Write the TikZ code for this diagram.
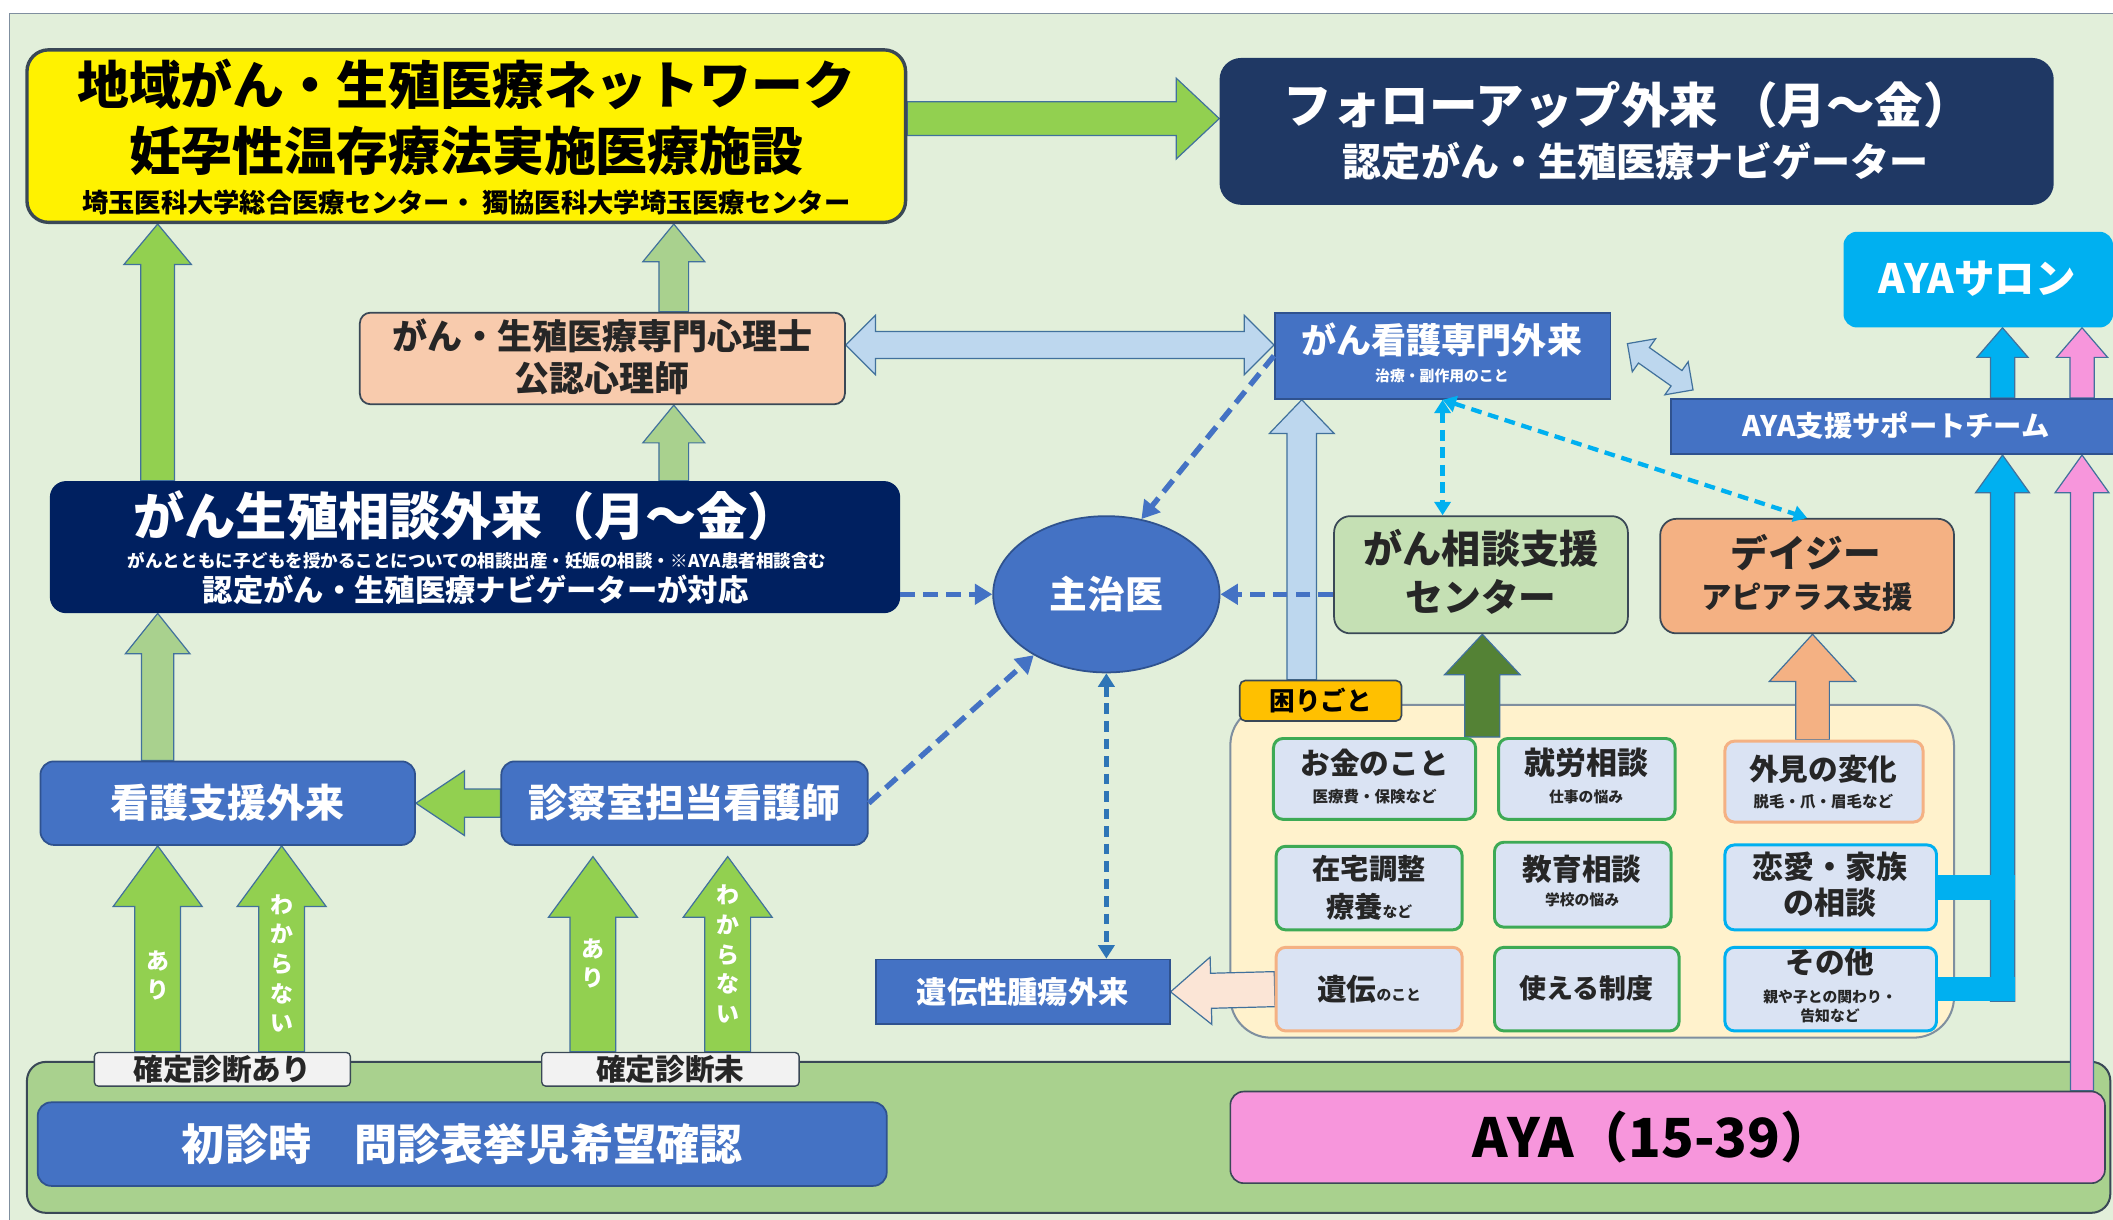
\documentclass[tikz,border=0pt]{standalone}
\usepackage{fontspec}
\setmainfont{Noto Sans CJK JP}
\usetikzlibrary{calc,arrows.meta,shapes.geometric}
\pgfdeclarelayer{bg}\pgfdeclarelayer{arr}
\pgfsetlayers{bg,arr,main}
\definecolor{bgc}{HTML}{E2EFDA}
\definecolor{cframe}{HTML}{7F8F9F}
\definecolor{cband}{HTML}{A9D18E}
\definecolor{cdark}{HTML}{3A4856}
\definecolor{cblue}{HTML}{4472C4}
\definecolor{cbord}{HTML}{2F528F}
\definecolor{cnavy}{HTML}{1F3864}
\definecolor{cnavyb}{HTML}{002060}
\definecolor{ccyan}{HTML}{00B0F0}
\definecolor{cpink}{HTML}{F796DC}
\definecolor{cgreen}{HTML}{92D050}
\definecolor{cgreenb}{HTML}{A9D18E}
\definecolor{cdgreen}{HTML}{548235}
\definecolor{clblue}{HTML}{BDD7EE}
\definecolor{cpeach}{HTML}{F8CBAD}
\definecolor{corange}{HTML}{F4B183}
\definecolor{cpeachl}{HTML}{FBE5D6}
\definecolor{cgreenl}{HTML}{C5E0B4}
\definecolor{ccream}{HTML}{FFF2CC}
\definecolor{cgold}{HTML}{FFC000}
\definecolor{cinner}{HTML}{DAE3F3}
\definecolor{cingreen}{HTML}{3DAA55}
\definecolor{carrline}{HTML}{41719C}
\definecolor{cteal}{HTML}{2E75B6}
\definecolor{klab}{HTML}{F2F2F2}
\definecolor{ctext}{HTML}{262626}
\tikzset{
  boxbase/.style={rectangle, inner sep=0pt},
  bluebox/.style={boxbase, fill=cblue, draw=cbord, line width=1.3pt},
  innerbox/.style={boxbase, rounded corners=7pt, fill=cinner, line width=2.2pt},
  blkarrow/.style={draw=carrline, line width=0.9pt, line join=miter},
  dasharr/.style={draw=cblue, line width=4pt, dash pattern=on 11pt off 6pt, -{Triangle[length=13pt,width=15pt]}},
  dashdbl/.style={line width=3.2pt, dash pattern=on 8pt off 5pt, {Triangle[length=10pt,width=12pt]}-{Triangle[length=10pt,width=12pt]}},
  vtxt/.style={inner sep=0pt, align=center, text=white, font=\bfseries\fontsize{17}{22}\selectfont}
}
\newcommand{\tx}[5]{\node[inner sep=0pt, text=#4, font=\bfseries\fontsize{#3}{#3}\selectfont] (#1) at (#2) {#5};}
\newcommand{\blk}[6][]{%
  \path (#2) coordinate (blkS) (#3) coordinate (blkE);
  \path ($(blkE)!#6!(blkS)$) coordinate (blkH);
  \draw[blkarrow,#1] ($(blkS)!#4!90:(blkE)$) -- ($(blkH)!#4!90:(blkE)$) -- ($(blkH)!#5!90:(blkE)$) -- (blkE) -- ($(blkH)!#5!-90:(blkE)$) -- ($(blkH)!#4!-90:(blkE)$) -- ($(blkS)!#4!-90:(blkE)$) -- cycle;}
\newcommand{\dblk}[6][]{%
  \path (#2) coordinate (blkS) (#3) coordinate (blkE);
  \path ($(blkE)!#6!(blkS)$) coordinate (blkH) ($(blkS)!#6!(blkE)$) coordinate (blkG);
  \draw[blkarrow,#1] (blkS) -- ($(blkG)!#5!90:(blkE)$) -- ($(blkG)!#4!90:(blkE)$) -- ($(blkH)!#4!90:(blkE)$) -- ($(blkH)!#5!90:(blkE)$) -- (blkE) -- ($(blkH)!#5!-90:(blkE)$) -- ($(blkH)!#4!-90:(blkE)$) -- ($(blkG)!#4!-90:(blkE)$) -- ($(blkG)!#5!-90:(blkE)$) -- cycle;}
\begin{document}
\begin{tikzpicture}[x=1pt,y=-1pt]
\useasboundingbox (0,0) rectangle (1568,905);
\begin{pgfonlayer}{bg}
  \fill[white] (0,0) rectangle (1568,905);
  \fill[bgc] (7,10) rectangle (1568,905);
  \draw[cframe, line width=1.2pt] (7,905) -- (7,10) -- (1568,10);
  \node[boxbase, rounded corners=14pt, fill=cband, draw=cdark, line width=1.5pt, minimum width=1546pt, minimum height=112pt] (band) at (793,844) {};
  \node[boxbase, rounded corners=30pt, fill=ccream, draw=cframe, line width=1.5pt, minimum width=537pt, minimum height=247pt] (komaribox) at (1181.5,646.5) {};
\end{pgfonlayer}

% coordinates for arrow lines
\coordinate (x117) at (117,0);
\coordinate (x209) at (209,0);
\coordinate (x440) at (440,0);
\coordinate (x540) at (540,0);
\coordinate (x500) at (500,0);
\coordinate (x966) at (966,0);
\coordinate (x1100) at (1100,0);
\coordinate (x1345) at (1345,0);
\coordinate (x1486) at (1486,0);
\coordinate (x1545) at (1545,0);
\coordinate (y88) at (0,88);
\coordinate (y256) at (0,256);

% top
\node[boxbase, rounded corners=16pt, fill=yellow, draw=cdark, line width=2.5pt, minimum width=652pt, minimum height=128pt] (yb) at (346,101) {};
\tx{yb1}{346,63}{38.5}{black}{地域がん・生殖医療ネットワーク}
\tx{yb2}{346,112}{38.5}{black}{妊孕性温存療法実施医療施設}
\tx{yb3}{346,150}{19.5}{black}{埼玉医科大学総合医療センター・ 獨協医科大学埼玉医療センター}

\node[boxbase, rounded corners=16pt, fill=cnavy, minimum width=619pt, minimum height=109pt] (fu) at (1214.5,97.5) {};
\tx{fu1}{1208,78}{36}{white}{フォローアップ外来 （月～金）}
\tx{fu2}{1214,120}{29}{white}{認定がん・生殖医療ナビゲーター}

\node[boxbase, rounded corners=10pt, fill=ccyan, minimum width=200pt, minimum height=71pt] (salon) at (1468,207.5) {};
\tx{salon1}{1467,207}{30}{white}{AYAサロン}

\node[bluebox, minimum width=332pt, minimum height=41pt] (team) at (1406,316.5) {};
\tx{team1}{1407,316}{21}{white}{AYA支援サポートチーム}

\node[bluebox, minimum width=249pt, minimum height=64pt] (kango) at (1070.5,264) {};
\tx{kango1}{1070,252}{26}{white}{がん看護専門外来}
\tx{kango2}{1070,279}{11}{white}{治療・副作用のこと}

\node[boxbase, rounded corners=8pt, fill=cpeach, draw=cdark, line width=1.3pt, minimum width=360pt, minimum height=68pt] (psych) at (447,266) {};
\tx{psych1}{447,249}{26}{ctext}{がん・生殖医療専門心理士}
\tx{psych2}{447,281}{26}{ctext}{公認心理師}

\node[boxbase, rounded corners=12pt, fill=cnavyb, minimum width=631pt, minimum height=98pt] (cgs) at (352.5,406) {};
\tx{cgs1}{346,383}{38}{white}{がん生殖相談外来（月～金）}
\tx{cgs2}{354,416}{13}{white}{がんとともに子どもを授かることについての相談出産・妊娠の相談・※AYA患者相談含む}
\tx{cgs3}{353,438}{22.5}{white}{認定がん・生殖医療ナビゲーターが対応}

\node[ellipse, fill=cblue, draw=cbord, line width=1.3pt, minimum width=168pt, minimum height=116pt, inner sep=0pt, text=white, font=\bfseries\fontsize{28}{28}\selectfont] (shuji) at (821,441) {主治医};

\node[bluebox, rounded corners=10pt, minimum width=278pt, minimum height=62pt, text=white, font=\bfseries\fontsize{29}{29}\selectfont] (kangoshien) at (169,596) {看護支援外来};
\node[bluebox, rounded corners=10pt, minimum width=272pt, minimum height=62pt, text=white, font=\bfseries\fontsize{29}{29}\selectfont] (shinsatsu) at (508,596) {診察室担当看護師};

\node[boxbase, rounded corners=3pt, fill=klab, draw=cdark, line width=1pt, minimum width=190pt, minimum height=25pt, text=ctext, font=\bfseries\fontsize{22}{22}\selectfont] (k1) at (165,793.5) {確定診断あり};
\node[boxbase, rounded corners=3pt, fill=klab, draw=cdark, line width=1pt, minimum width=191pt, minimum height=25pt, text=ctext, font=\bfseries\fontsize{22}{22}\selectfont] (k2) at (497.5,793.5) {確定診断未};

\node[bluebox, rounded corners=10pt, minimum width=630pt, minimum height=62pt, text=white, font=\bfseries\fontsize{32}{32}\selectfont] (shoshin) at (343,849) {初診時　問診表挙児希望確認};
\node[boxbase, rounded corners=10pt, fill=cpink, draw=cdark, line width=1.2pt, minimum width=649pt, minimum height=68pt] (aya) at (1237.5,844) {};
\tx{aya1}{1227,844}{40}{black}{AYA（15-39）}

\node[boxbase, rounded corners=4pt, fill=cgold, draw=cdark, line width=1.2pt, minimum width=120pt, minimum height=30pt, text=black, font=\bfseries\fontsize{19}{19}\selectfont] (komari) at (980,520) {困りごと};

\node[boxbase, rounded corners=12pt, fill=cgreenl, draw=cdark, line width=1.3pt, minimum width=218pt, minimum height=87pt] (soudan) at (1099,426.5) {};
\tx{soudan1}{1099,407}{29}{ctext}{がん相談支援}
\tx{soudan2}{1099,443}{28}{ctext}{センター}

\node[boxbase, rounded corners=12pt, fill=corange, draw=cdark, line width=1.3pt, minimum width=218pt, minimum height=85pt] (daisy) at (1341,427.5) {};
\tx{daisy1}{1340,410}{28}{ctext}{デイジー}
\tx{daisy2}{1341,443}{22.5}{ctext}{アピアラス支援}

\node[bluebox, minimum width=218pt, minimum height=48pt, text=white, font=\bfseries\fontsize{22.5}{22.5}\selectfont] (idengai) at (759,736) {遺伝性腫瘍外来};

% inner boxes
\node[innerbox, draw=cingreen, minimum width=150pt, minimum height=60pt] (okane) at (1020,578) {};
\tx{okane1}{1020,566}{22}{ctext}{お金のこと}
\tx{okane2}{1020,591}{11.5}{ctext}{医療費・保険など}
\node[innerbox, draw=cingreen, minimum width=131pt, minimum height=60pt] (shuro) at (1177.5,578) {};
\tx{shuro1}{1177,566}{23}{ctext}{就労相談}
\tx{shuro2}{1177,591}{11}{ctext}{仕事の悩み}
\node[innerbox, draw=corange, minimum width=147pt, minimum height=60pt] (gaiken) at (1353.5,580) {};
\tx{gaiken1}{1353,571}{22}{ctext}{外見の変化}
\tx{gaiken2}{1353,595}{11.5}{ctext}{脱毛・爪・眉毛など}
\node[innerbox, draw=cingreen, minimum width=138pt, minimum height=62pt] (zaitaku) at (1016,659) {};
\tx{zaitaku1}{1016,645}{21}{ctext}{在宅調整}
\tx{zaitaku2}{1016,673}{21}{ctext}{療養{\fontsize{11}{11}\selectfont など}}
\node[innerbox, draw=cingreen, minimum width=131pt, minimum height=63pt] (kyoiku) at (1174.5,656.5) {};
\tx{kyoiku1}{1174,645}{22}{ctext}{教育相談}
\tx{kyoiku2}{1174,668}{11}{ctext}{学校の悩み}
\node[innerbox, draw=ccyan, minimum width=157pt, minimum height=63pt] (renai) at (1358.5,658.5) {};
\tx{renai1}{1358,643}{23}{ctext}{恋愛・家族}
\tx{renai2}{1358,670}{23}{ctext}{の相談}
\node[innerbox, draw=corange, minimum width=138pt, minimum height=62pt] (iden) at (1016,734) {};
\tx{iden1}{1016,734}{22}{ctext}{遺伝{\fontsize{11}{11}\selectfont のこと}}
\node[innerbox, draw=cingreen, minimum width=137pt, minimum height=62pt] (seido) at (1177.5,734) {};
\tx{seido1}{1177,733}{20}{ctext}{使える制度}
\node[innerbox, draw=ccyan, minimum width=157pt, minimum height=62pt] (sonota) at (1358.5,734) {};
\tx{sonota1}{1358,714}{22}{ctext}{その他}
\tx{sonota2}{1358,740}{11}{ctext}{親や子との関わり・}
\tx{sonota3}{1358,754}{11}{ctext}{告知など}

% arrows
\begin{pgfonlayer}{arr}
  \blk[fill=cgreen]{yb.east |- y88}{fu.west |- y88}{12.5pt}{30pt}{32pt}
  \blk[fill=cgreen]{x117 |- cgs.north}{x117 |- yb.south}{12.5pt}{25pt}{30pt}
  \blk[fill=cgreenb]{x500 |- psych.north}{x500 |- yb.south}{11pt}{23pt}{28pt}
  \blk[fill=cgreenb]{x500 |- cgs.north}{x500 |- psych.south}{11pt}{23pt}{28pt}
  \blk[fill=cgreenb]{x117 |- kangoshien.north}{x117 |- cgs.south}{12pt}{24pt}{30pt}
  \blk[fill=cgreen]{shinsatsu.west}{kangoshien.east}{10.5pt}{24pt}{36pt}
  \blk[fill=cgreen]{x117 |- k1.north}{x117 |- kangoshien.south}{17pt}{33pt}{45pt}
  \blk[fill=cgreen]{x209 |- k1.north}{x209 |- kangoshien.south}{17pt}{33pt}{45pt}
  \blk[fill=cgreen]{x440 |- k2.north}{$(x440 |- shinsatsu.south)+(0,8)$}{17pt}{33pt}{45pt}
  \blk[fill=cgreen]{x540 |- k2.north}{$(x540 |- shinsatsu.south)+(0,8)$}{17pt}{33pt}{45pt}
  \dblk[fill=clblue]{psych.east |- y256}{kango.west |- y256}{10pt}{22pt}{22pt}
  \dblk[fill=clblue]{$(kango.east)+(12,-9)$}{$(team.north west)+(17,-6)$}{7pt}{15pt}{15pt}
  \blk[fill=clblue]{x966 |- komari.north}{x966 |- kango.south}{11pt}{24pt}{25pt}
  \blk[fill=cdgreen]{x1100 |- okane.north}{x1100 |- soudan.south}{13pt}{28pt}{30pt}
  \blk[fill=corange]{x1345 |- gaiken.north}{x1345 |- daisy.south}{12.5pt}{32pt}{35pt}
  \blk[fill=cpeachl]{iden.west}{idengai.east}{13pt}{25pt}{30pt}
  \blk[fill=ccyan]{$(x1486 |- sonota.east)+(0,9)$}{x1486 |- team.south}{9pt}{20pt}{28pt}
  \draw[ccyan, line width=18pt] (renai.east) -- ($(x1486 |- renai.east)+(9,0)$);
  \draw[ccyan, line width=18pt] (sonota.east) -- ($(x1486 |- sonota.east)+(9,0)$);
  \blk[fill=cpink]{x1545 |- aya.north}{x1545 |- team.south}{8.5pt}{20pt}{28pt}
  \blk[fill=ccyan]{x1486 |- team.north}{x1486 |- salon.south}{9pt}{19pt}{22pt}
  \blk[fill=cpink]{x1545 |- team.north}{x1545 |- salon.south}{9pt}{19pt}{22pt}
\end{pgfonlayer}
\node[vtxt] (v1) at (117,724) {あ\\り};
\node[vtxt] (v2) at (209,715) {わ\\か\\ら\\な\\い};
\node[vtxt] (v3) at (440,715) {あ\\り};
\node[vtxt] (v4) at (540,708) {わ\\か\\ら\\な\\い};

% dashed connectors
\draw[dasharr] (cgs.east |- shuji.west) -- (shuji.west);
\draw[dasharr] (soudan.west |- shuji.east) -- (shuji.east);
\draw[dasharr] (kango.west) -- (shuji.65);
\draw[dasharr] (shinsatsu.east) -- (shuji.220);
\draw[dashdbl, draw=cteal] (shuji.south) -- (shuji.south |- idengai.north);
\draw[dashdbl, draw=ccyan] (kango.south) -- (kango.south |- soudan.north);
\draw[dashdbl, draw=ccyan] (kango.south) -- (daisy.north);
\end{tikzpicture}
\end{document}
